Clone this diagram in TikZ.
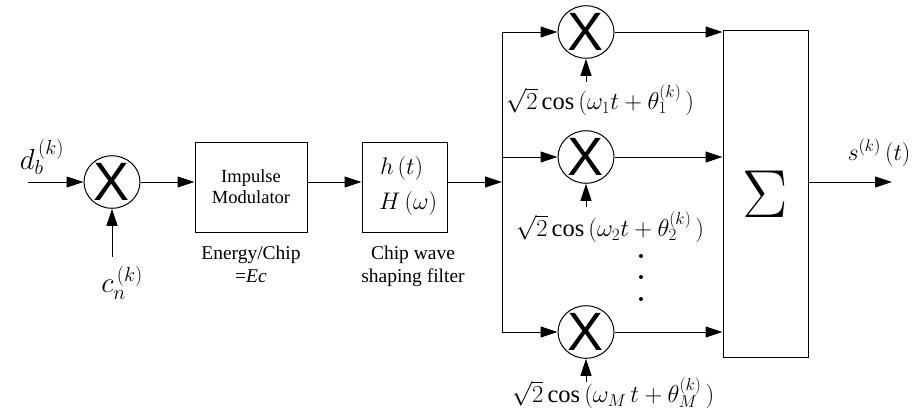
\RequirePackage{fix-cm}
\documentclass[tikz,border=0pt]{standalone}
\usepackage{fontspec}
\setmainfont{Liberation Serif}
\newfontfamily\xfont{Liberation Sans}
\usetikzlibrary{arrows.meta,shapes.geometric}
\tikzset{
  line/.style={draw=black, line width=1pt},
  arr/.style={line, -{Triangle[length=17pt,width=11pt]}},
  mult/.style={draw=black, line width=1pt, ellipse, minimum width=56pt, minimum height=47pt, inner sep=0pt},
  blk/.style={draw=black, line width=1pt, rectangle, inner sep=0pt},
  lbl/.style={inner sep=0pt, font=\fontsize{19.5}{23}\selectfont, align=center},
  mlbl/.style={inner sep=0pt, font=\fontsize{24.5}{28}\selectfont},
}
\newcommand{\bigX}{{\xfont\fontsize{54}{54}\selectfont X}}
\newcommand{\mycos}{\mbox{cos}}
\begin{document}
\begin{tikzpicture}[x=1pt,y=-1pt]
\useasboundingbox (0,0) rectangle (919,418);
% first multiplier
\node[mult] (m0) at (112,182) {\bigX};
\coordinate (din) at (28,182);
\coordinate (cin) at (112,257);
\node[inner sep=0pt, font=\fontsize{29}{30}\selectfont] (dlbl) at (42,157) {$d_b^{\,(k)}$};
\node[inner sep=0pt, font=\fontsize{29}{30}\selectfont] (clbl) at (122,283) {$c_n^{\,(k)}$};
\draw[arr] (din) -- (m0.west);
\draw[arr] (cin) -- (m0.south);
% impulse modulator
\node[blk, minimum width=112pt, minimum height=90pt] (imp) at (251,187)
  {\parbox{110pt}{\centering\fontsize{18.5}{21}\selectfont Impulse\\Modulator}};
\node[lbl, anchor=base] (elbl) at (251,282) {Energy/Chip\\=\textit{Ec}};
\draw[arr] (m0.east) -- (m0.east -| imp.west);
% filter
\node[blk, minimum width=85pt, minimum height=90pt] (flt) at (404.5,187) {};
\node[inner sep=0pt, font=\fontsize{24}{28}\selectfont, anchor=west] (ht) at (380,168) {$h\,(t)$};
\node[inner sep=0pt, font=\fontsize{24}{28}\selectfont, anchor=west] (Hw) at (379,203) {$H\,(\omega)$};
\node[lbl, anchor=base] (flbl) at (413,282) {Chip wave\\shaping filter};
\draw[arr] (imp.east |- m0.east) -- (flt.west |- m0.east);
% bus
\coordinate (bus) at (502,182);
\coordinate (bt) at (502,32);
\coordinate (bm) at (502,157);
\coordinate (bb) at (502,332);
\draw[arr] (flt.east |- bus) -- (bus);
\draw[line] (bt) -- (bb);
% multipliers
\node[mult] (m1) at (586,32) {\bigX};
\node[mult] (m2) at (586,157) {\bigX};
\node[mult] (m3) at (586,332) {\bigX};
\draw[arr] (bt) -- (m1.west);
\draw[arr] (bm) -- (m2.west);
\draw[arr] (bb) -- (m3.west);
% sum block
\node[blk, minimum width=85pt, minimum height=327pt] (sum) at (765.5,194) {\fontsize{68}{68}\selectfont$\Sigma$};
\draw[arr] (m1.east) -- (m1.east -| sum.west);
\draw[arr] (m2.east) -- (m2.east -| sum.west);
\draw[arr] (m3.east) -- (m3.east -| sum.west);
% carrier inputs
\coordinate (c1) at (586,82);
\coordinate (c2) at (586,207);
\coordinate (c3) at (586,382);
\draw[arr] (c1) -- (m1.south);
\draw[arr] (c2) -- (m2.south);
\draw[arr] (c3) -- (m3.south);
\node[mlbl] (l1) at (600,100) {$\sqrt{2}\,\mycos\,(\omega_1 t+\theta_1^{(k)}\,)$};
\node[mlbl] (l2) at (610,227) {$\sqrt{2}\,\mycos\,(\omega_2 t+\theta_2^{(k)}\,)$};
\node[mlbl] (l3) at (613,393) {$\sqrt{2}\,\mycos\,(\omega_M\, t+\theta_M^{(k)}\,)$};
% dots
\fill (641,256) circle (2pt);
\fill (641,277) circle (2pt);
\fill (641,299) circle (2pt);
% output
\coordinate (out) at (892,182);
\draw[arr] (sum.east |- out) -- (out);
\node[inner sep=0pt, font=\fontsize{24}{28}\selectfont] (slbl) at (879,153) {$s^{(k)}\,(t)$};
\end{tikzpicture}
\end{document}
